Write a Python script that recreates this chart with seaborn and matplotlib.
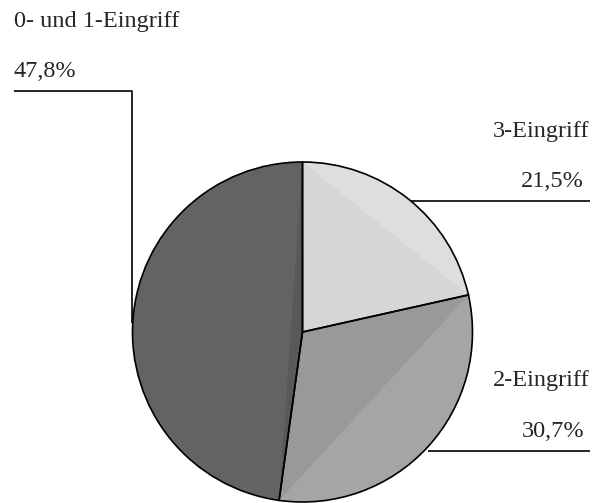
import numpy as np
import matplotlib
matplotlib.use("Agg")
import matplotlib.pyplot as plt
from matplotlib.patches import Polygon, Wedge
import seaborn as sns

# Share of cases by number of interventions
categories = ["3-Eingriff", "2-Eingriff", "0- und 1-Eingriff"]
shares = [21.5, 30.7, 47.8]
value_labels = ["21,5%", "30,7%", "47,8%"]

fill_colors = ["#d6d6d6", "#999999", "#595959"]
rim_colors = ["#dedede", "#a5a5a5", "#636363"]

sns.set_theme(style="white")
plt.rcParams["font.family"] = ["Liberation Serif", "DejaVu Serif"]

W, H = 593, 503
fig = plt.figure(figsize=(W / 100, H / 100), dpi=100)
ax = fig.add_axes([0, 0, 1, 1])

cx, cy, r = 302.5, H - 332, 170
wedges, _ = ax.pie(shares, colors=fill_colors, startangle=90, counterclock=False,
                   center=(cx, cy), radius=r,
                   wedgeprops=dict(edgecolor="black", linewidth=1.2))

# flat fill, then a slightly lighter circular segment beyond each slice's chord,
# with the outlined wedges kept on top
for w, fc, rc in zip(wedges, fill_colors, rim_colors):
    base_z = w.get_zorder()
    ax.add_patch(Wedge((cx, cy), r, w.theta1, w.theta2, facecolor=fc,
                       edgecolor="none", zorder=base_z - 0.2))
    t = np.radians(np.linspace(w.theta1, w.theta2, 120))
    seg = np.column_stack([cx + r * np.cos(t), cy + r * np.sin(t)])
    ax.add_patch(Polygon(seg, closed=True, facecolor=rc, edgecolor="none",
                         zorder=base_z - 0.1))
    w.set_facecolor("none")

ax.set_xlim(0, W)
ax.set_ylim(0, H)
ax.set_aspect("equal")
ax.axis("off")

fs = 17.5
line_kw = dict(color="black", linewidth=1.2, solid_capstyle="butt")

# 0- und 1-Eingriff (top left)
ax.text(14, H - 27, categories[2], fontsize=fs, ha="left", va="baseline")
ax.text(14, H - 77, value_labels[2], fontsize=fs, ha="left", va="baseline")
ax.plot([14, 131.5, 131.5], [H - 90.5, H - 90.5, H - 323], **line_kw)

# 3-Eingriff (upper right)
ax.text(589, H - 137, categories[0], fontsize=fs, ha="right", va="baseline")
ax.text(584, H - 187, value_labels[0], fontsize=fs, ha="right", va="baseline")
ax.plot([411, 590], [H - 200.5, H - 200.5], **line_kw)

# 2-Eingriff (lower right)
ax.text(590, H - 386, categories[1], fontsize=fs, ha="right", va="baseline")
ax.text(584, H - 437, value_labels[1], fontsize=fs, ha="right", va="baseline")
ax.plot([428, 590], [H - 450.5, H - 450.5], **line_kw)

fig.savefig("out.png", dpi=100, facecolor="white")
